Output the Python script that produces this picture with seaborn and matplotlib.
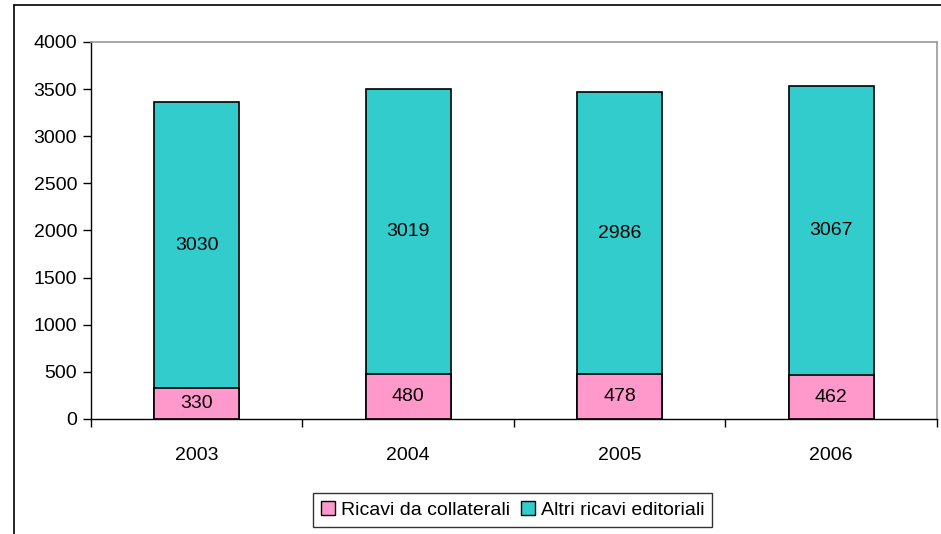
import pandas as pd
import numpy as np
import matplotlib
matplotlib.use("Agg")
import matplotlib.pyplot as plt
import seaborn as sns
from matplotlib.lines import Line2D
from matplotlib.patches import Patch

# data
years = ["2003", "2004", "2005", "2006"]
collaterali = [330, 480, 478, 462]
altri = [3030, 3019, 2986, 3067]

pink = "#FF99CC"
teal = "#33CCCC"

df = pd.DataFrame({"Anno": years, "Ricavi da collaterali": collaterali,
                   "Altri ricavi editoriali": altri})
df["Totale"] = df["Ricavi da collaterali"] + df["Altri ricavi editoriali"]

sns.set_style("white")
plt.rcParams["font.family"] = ["Liberation Sans", "DejaVu Sans"]
plt.rcParams["text.color"] = "black"
plt.rcParams["xtick.color"] = "black"
plt.rcParams["ytick.color"] = "black"

fs = 14

fig = plt.figure(figsize=(9.41, 5.34), dpi=100)
ax = fig.add_axes([0.0967, 0.2154, 0.899, 0.706])

# stacked bars: total (teal) first, then the bottom segment (pink) over it
sns.barplot(data=df, x="Anno", y="Totale", color=teal, width=0.4,
            edgecolor="black", linewidth=1.2, saturation=1, ax=ax)
sns.barplot(data=df, x="Anno", y="Ricavi da collaterali", color=pink, width=0.4,
            edgecolor="black", linewidth=1.2, saturation=1, ax=ax)

# value labels centred in each segment
for i, (c, a) in enumerate(zip(collaterali, altri)):
    ax.text(i, c / 2, str(c), ha="center", va="center", fontsize=fs)
    ax.text(i, c + a / 2, str(a), ha="center", va="center", fontsize=fs)

ax.set_ylim(0, 4000)
ax.set_xlim(-0.5, 3.5)
ax.set_yticks(np.arange(0, 4001, 500))
ax.set_xlabel("")
ax.set_ylabel("")
ax.tick_params(axis="y", labelsize=fs, length=6, width=1, direction="out", left=True, pad=4)
ax.tick_params(axis="x", which="major", labelsize=fs, length=0, pad=20)
ax.set_xticks(np.arange(-0.5, 4, 1), minor=True)
ax.tick_params(axis="x", which="minor", length=6, width=1, direction="out", bottom=True)

for side in ["left", "bottom"]:
    ax.spines[side].set_color("black")
    ax.spines[side].set_linewidth(1)
for side in ["top", "right"]:
    ax.spines[side].set_color("#999999")
    ax.spines[side].set_linewidth(1.2)

# legend
handles = [Patch(facecolor=pink, edgecolor="black", label="Ricavi da collaterali"),
           Patch(facecolor=teal, edgecolor="black", label="Altri ricavi editoriali")]
leg = fig.legend(handles=handles, loc="center", bbox_to_anchor=(0.545, 0.045), ncol=2,
                 fontsize=fs, frameon=True, fancybox=False, handlelength=0.7,
                 handleheight=0.7, handletextpad=0.3, columnspacing=0.6,
                 borderpad=0.4)
leg.get_frame().set_edgecolor("black")
leg.get_frame().set_linewidth(1)

# outer chart frame (left and top edges visible)
fig.add_artist(Line2D([0.0149, 0.0149], [0, 0.9906], color="black", lw=1.2))
fig.add_artist(Line2D([0.0149, 1], [0.9906, 0.9906], color="black", lw=1.2))

fig.savefig("out.png", dpi=100)
